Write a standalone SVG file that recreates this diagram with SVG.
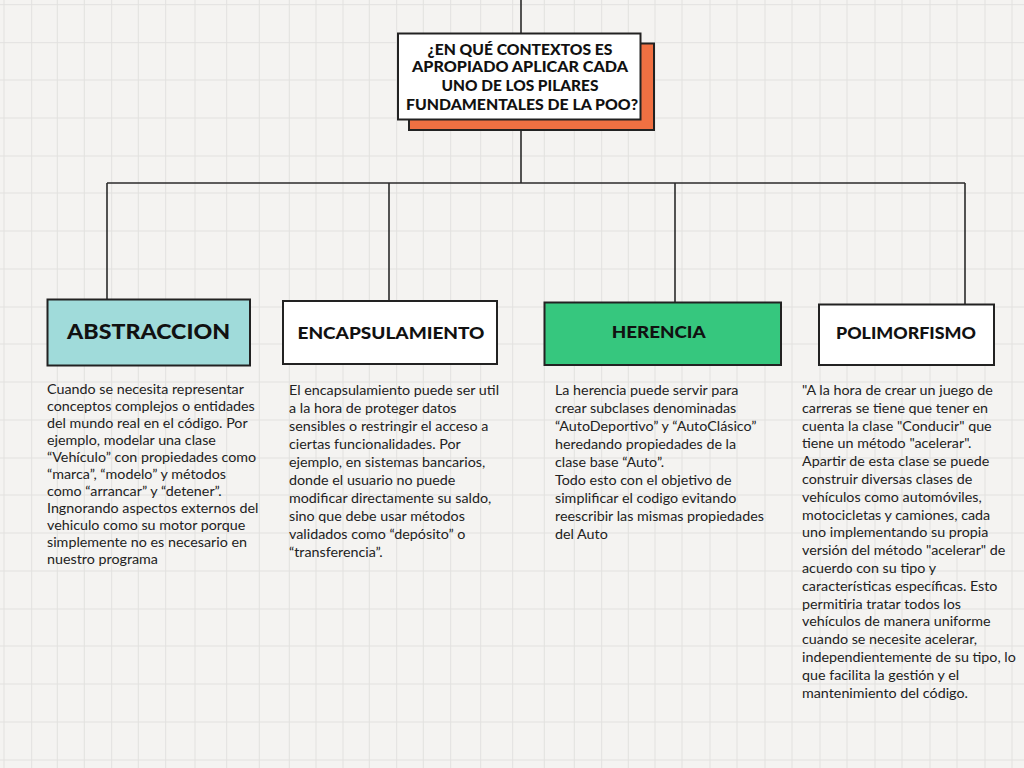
<svg xmlns="http://www.w3.org/2000/svg" width="1024" height="768" viewBox="0 0 1024 768">
<style>
.grid{stroke:#e2e1df;stroke-width:1;fill:none}
.conn{stroke:#2b2b2b;stroke-width:1.6;fill:none}
.box{stroke:#222;stroke-width:2}
.head{font-family:Lato,"Liberation Sans",sans-serif;font-weight:900;fill:#111;text-anchor:middle}
.body{font-family:Lato,"Liberation Sans",sans-serif;font-size:14.3px;fill:#222}
</style>
<rect x="0" y="0" width="1024" height="768" fill="#f4f3f1"/>
<path class="grid" d="M4 0V768M31.7 0V768M57.3 0V768M84.3 0V768M111.7 0V768M138.3 0V768M165.7 0V768M195 0V768M226.7 0V768M259.3 0V768M289.3 0V768M316 0V768M343 0V768M369.3 0V768M396.7 0V768M423.3 0V768M450.7 0V768M480.7 0V768M512.7 0V768M544.3 0V768M574.3 0V768M601.7 0V768M628.3 0V768M655 0V768M682 0V768M710 0V768M737 0V768M765 0V768M792 0V768M820 0V768M847 0V768M875 0V768M902 0V768M930 0V768M957 0V768M985 0V768M1012 0V768M0 4.7H1024M0 42.7H1024M0 80H1024M0 118H1024M0 156H1024M0 193H1024M0 231H1024M0 269H1024M0 307H1024M0 344H1024M0 382H1024M0 420H1024M0 458H1024M0 495H1024M0 533H1024M0 571H1024M0 609H1024M0 646H1024M0 684H1024M0 722H1024M0 760H1024"/>
<g id="connectors">
<path class="conn" d="M521 0V34M521 120V183M107 183H965M107 183V299M389 183V301M675 183V302M965 183V304"/>
</g>
<g id="title">
<rect class="box" x="409" y="43.5" width="245" height="86.5" fill="#f07042"/>
<rect class="box" x="398" y="33.5" width="242.5" height="86" fill="#ffffff"/>
<text class="head" font-size="15" x="520" y="55" textLength="185" lengthAdjust="spacingAndGlyphs">¿EN QUÉ CONTEXTOS ES</text>
<text class="head" font-size="15" x="520" y="72" textLength="216" lengthAdjust="spacingAndGlyphs">APROPIADO APLICAR CADA</text>
<text class="head" font-size="15" x="520" y="91" textLength="157" lengthAdjust="spacingAndGlyphs">UNO DE LOS PILARES</text>
<text class="head" font-size="15" x="522" y="110" textLength="232" lengthAdjust="spacingAndGlyphs">FUNDAMENTALES DE LA POO?</text>
</g>
<g id="abstraccion">
<rect class="box" x="47.5" y="299.5" width="202.5" height="66" fill="#a0dbda"/>
<text class="head" font-size="21" x="148.6" y="338.5" textLength="163" lengthAdjust="spacingAndGlyphs">ABSTRACCION</text>
<text class="body">
<tspan x="47" y="394">Cuando se necesita representar</tspan>
<tspan x="47" y="411">conceptos complejos o entidades</tspan>
<tspan x="47" y="428">del mundo real en el código. Por</tspan>
<tspan x="47" y="445">ejemplo, modelar una clase</tspan>
<tspan x="47" y="462">“Vehículo” con propiedades como</tspan>
<tspan x="47" y="479">“marca”, “modelo” y métodos</tspan>
<tspan x="47" y="496">como “arrancar” y “detener”.</tspan>
<tspan x="47" y="513">Ingnorando aspectos externos del</tspan>
<tspan x="47" y="530">vehiculo como su motor porque</tspan>
<tspan x="47" y="547">simplemente no es necesario en</tspan>
<tspan x="47" y="564">nuestro programa</tspan>
</text>
</g>
<g id="encapsulamiento">
<rect class="box" x="283" y="301" width="214" height="63" fill="#ffffff"/>
<text class="head" font-size="17" x="391" y="339" textLength="187" lengthAdjust="spacingAndGlyphs">ENCAPSULAMIENTO</text>
<text class="body">
<tspan x="289" y="395">El encapsulamiento puede ser util</tspan>
<tspan x="289" y="413">a la hora de proteger datos</tspan>
<tspan x="289" y="431">sensibles o restringir el acceso a</tspan>
<tspan x="289" y="449">ciertas funcionalidades. Por</tspan>
<tspan x="289" y="467">ejemplo, en sistemas bancarios,</tspan>
<tspan x="289" y="485">donde el usuario no puede</tspan>
<tspan x="289" y="503">modificar directamente su saldo,</tspan>
<tspan x="289" y="521">sino que debe usar métodos</tspan>
<tspan x="289" y="539">validados como “depósito” o</tspan>
<tspan x="289" y="557">“transferencia”.</tspan>
</text>
</g>
<g id="herencia">
<rect class="box" x="544.5" y="302.5" width="236.5" height="62.5" fill="#36c77e"/>
<text class="head" font-size="17.5" x="658.7" y="338" textLength="94" lengthAdjust="spacingAndGlyphs">HERENCIA</text>
<text class="body">
<tspan x="555" y="395">La herencia puede servir para</tspan>
<tspan x="555" y="413">crear subclases denominadas</tspan>
<tspan x="555" y="431">“AutoDeportivo” y “AutoClásico”</tspan>
<tspan x="555" y="449">heredando propiedades de la</tspan>
<tspan x="555" y="467">clase base “Auto”.</tspan>
<tspan x="555" y="485">Todo esto con el objetivo de</tspan>
<tspan x="555" y="503">simplificar el codigo evitando</tspan>
<tspan x="555" y="521">reescribir las mismas propiedades</tspan>
<tspan x="555" y="539">del Auto</tspan>
</text>
</g>
<g id="polimorfismo">
<rect class="box" x="819" y="304.5" width="175" height="60.5" fill="#ffffff"/>
<text class="head" font-size="17.5" x="906" y="338.5" textLength="140" lengthAdjust="spacingAndGlyphs">POLIMORFISMO</text>
<text class="body">
<tspan x="802" y="395">"A la hora de crear un juego de</tspan>
<tspan x="802" y="412.8">carreras se tiene que tener en</tspan>
<tspan x="802" y="430.6">cuenta la clase "Conducir" que</tspan>
<tspan x="802" y="448.4">tiene un método "acelerar".</tspan>
<tspan x="802" y="466.2">Apartir de esta clase se puede</tspan>
<tspan x="802" y="484">construir diversas clases de</tspan>
<tspan x="802" y="501.8">vehículos como automóviles,</tspan>
<tspan x="802" y="519.6">motocicletas y camiones, cada</tspan>
<tspan x="802" y="537.4">uno implementando su propia</tspan>
<tspan x="802" y="555.2">versión del método "acelerar" de</tspan>
<tspan x="802" y="573">acuerdo con su tipo y</tspan>
<tspan x="802" y="590.8">características específicas. Esto</tspan>
<tspan x="802" y="608.6">permitiria tratar todos los</tspan>
<tspan x="802" y="626.4">vehículos de manera uniforme</tspan>
<tspan x="802" y="644.2">cuando se necesite acelerar,</tspan>
<tspan x="802" y="662">independientemente de su tipo, lo</tspan>
<tspan x="802" y="679.8">que facilita la gestión y el</tspan>
<tspan x="802" y="697.6">mantenimiento del código.</tspan>
</text>
</g>
</svg>
